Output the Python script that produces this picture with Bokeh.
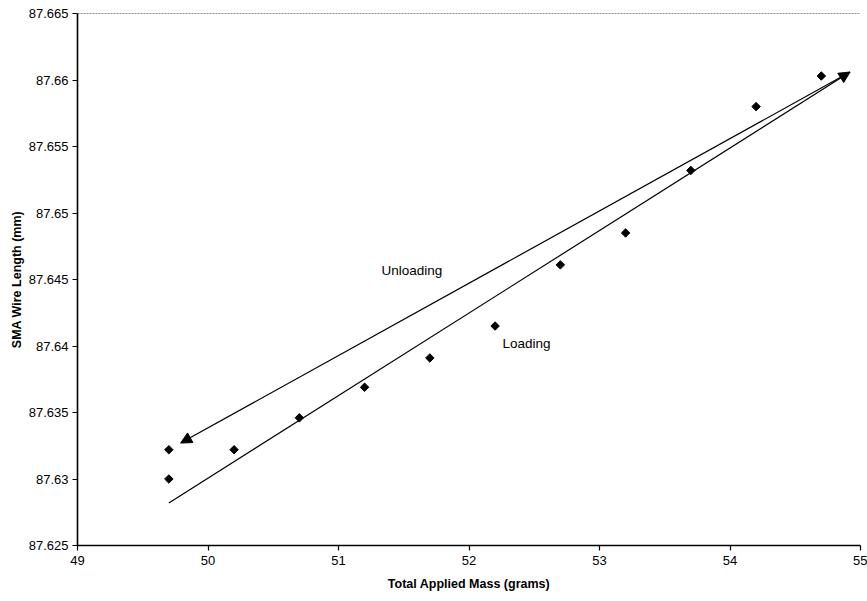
import math
from bokeh.plotting import figure
from bokeh.models import (ColumnDataSource, FixedTicker, NumeralTickFormatter,
                          Span, Arrow, NormalHead, Label)
from bokeh.embed import file_html
from bokeh.resources import INLINE

# Measured wire length for each total applied mass
mass_g = [49.7, 49.7, 50.2, 50.7, 51.2, 51.7, 52.2, 52.7, 53.2, 53.7, 54.2, 54.7]
length_mm = [87.6322, 87.6300, 87.6322, 87.6346, 87.6369, 87.6391,
             87.6415, 87.6461, 87.6485, 87.6532, 87.6580, 87.6603]

# Trend arrows: loading goes up, unloading comes back down
loading_start = (49.7, 87.6282)
loading_end = (54.92, 87.6606)
unloading_start = (54.92, 87.6606)
unloading_end = (49.79, 87.6327)

x_ticks = [49, 50, 51, 52, 53, 54, 55]
y_ticks = [87.625, 87.63, 87.635, 87.64, 87.645, 87.65, 87.655, 87.66, 87.665]

FONT = "Liberation Sans"

p = figure(width=867, height=601, x_range=(49, 55), y_range=(87.625, 87.665),
           output_backend="svg", toolbar_location=None,
           min_border_left=77, min_border_right=7,
           min_border_top=13, min_border_bottom=56)

p.outline_line_color = None
p.xgrid.visible = False
p.ygrid.visible = False
p.background_fill_color = "white"
p.border_fill_color = "white"

# dotted top edge of the plot area
p.add_layout(Span(location=87.665, dimension="width", line_color="#222222",
                  line_width=1, line_dash="2 1"))

for ax in (p.xaxis[0], p.yaxis[0]):
    ax.axis_line_color = "black"
    ax.axis_line_width = 1.6
    ax.major_tick_line_color = "black"
    ax.major_tick_line_width = 1.2
    ax.major_tick_out = 5
    ax.major_tick_in = 0
    ax.minor_tick_line_color = None
    ax.major_label_text_font = FONT
    ax.major_label_text_font_size = "13px"
    ax.major_label_text_color = "black"
    ax.axis_label_text_font = FONT
    ax.axis_label_text_font_size = "12.5px"
    ax.axis_label_text_font_style = "bold"
    ax.axis_label_text_color = "black"

p.xaxis.ticker = FixedTicker(ticks=x_ticks)
p.yaxis.ticker = FixedTicker(ticks=y_ticks)
p.xaxis.formatter = NumeralTickFormatter(format="0")
p.yaxis.formatter = NumeralTickFormatter(format="0.[000]")
p.xaxis.axis_label = "Total Applied Mass (grams)"
p.yaxis.axis_label = "SMA Wire Length (mm)"
p.xaxis.major_label_standoff = 5
p.yaxis.major_label_standoff = 4
p.xaxis.axis_label_standoff = 9
p.yaxis.axis_label_standoff = 2

src = ColumnDataSource(data=dict(x=mass_g, y=length_mm))
# diamond markers drawn as squares turned by 45 degrees
p.scatter("x", "y", source=src, marker="square", angle=math.pi / 4, size=6,
          fill_color="black", line_color="black")

p.add_layout(Arrow(end=NormalHead(size=11, fill_color="black", line_color="black"),
                   x_start=loading_start[0], y_start=loading_start[1],
                   x_end=loading_end[0], y_end=loading_end[1],
                   line_color="black", line_width=1.2))
p.add_layout(Arrow(end=NormalHead(size=11, fill_color="black", line_color="black"),
                   x_start=unloading_start[0], y_start=unloading_start[1],
                   x_end=unloading_end[0], y_end=unloading_end[1],
                   line_color="black", line_width=1.2))

p.add_layout(Label(x=51.33, y=87.6457, text="Unloading", text_font=FONT,
                   text_font_size="13.5px", text_color="black",
                   text_baseline="middle"))
p.add_layout(Label(x=52.257, y=87.6402, text="Loading", text_font=FONT,
                   text_font_size="13.5px", text_color="black",
                   text_baseline="middle"))

open("out.html", "w").write(file_html(p, INLINE))
